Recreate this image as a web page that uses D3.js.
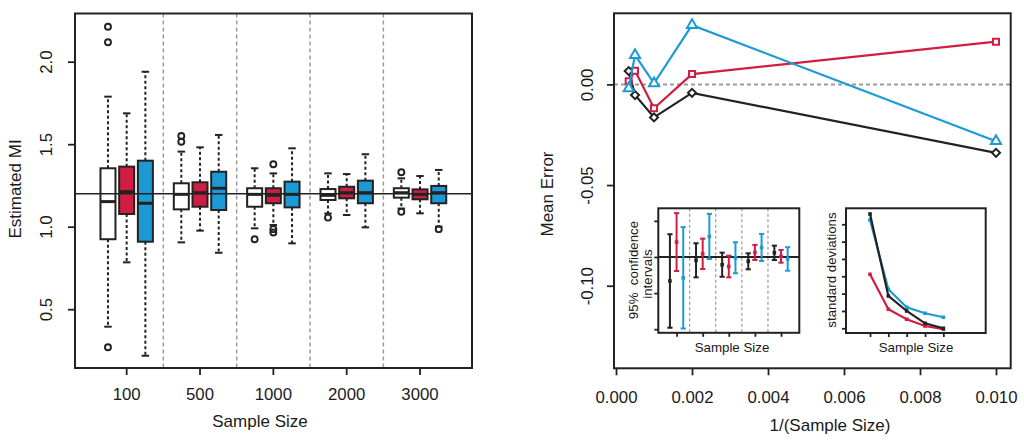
<!DOCTYPE html>
<html>
<head>
<meta charset="utf-8">
<script src="https://cdn.jsdelivr.net/npm/d3@7"></script>
<style>
  body { margin: 0; background: #fff; }
  text { font-family: "Liberation Sans", Arial, Helvetica, sans-serif; fill: #1a1a1a; }
</style>
</head>
<body>
<svg id="chart" width="1024" height="444"></svg>
<script>
// ---- data: left panel (boxplots of estimated MI) ----
const sampleSizes = [100, 500, 1000, 2000, 3000];
const seriesKeys = ["black", "red", "blue"];
const lineColors = ["#222222", "#d21d43", "#1b9ad6"];
const boxFills = ["#ffffff", "#d21d43", "#1b9ad6"];

// [lower whisker, Q1, median, Q3, upper whisker] per sample size
const boxBlack = [
  [0.394, 0.924, 1.152, 1.354, 1.788],
  [0.905, 1.105, 1.196, 1.263, 1.455],
  [0.990, 1.121, 1.196, 1.233, 1.354],
  [1.080, 1.162, 1.190, 1.228, 1.323],
  [1.110, 1.176, 1.206, 1.233, 1.293]
];
const boxRed = [
  [0.784, 1.077, 1.212, 1.364, 1.687],
  [0.976, 1.121, 1.206, 1.269, 1.481],
  [1.010, 1.142, 1.190, 1.233, 1.323],
  [1.071, 1.172, 1.206, 1.242, 1.319],
  [1.081, 1.166, 1.196, 1.226, 1.307]
];
const boxBlue = [
  [0.218, 0.909, 1.142, 1.400, 1.939],
  [0.842, 1.101, 1.233, 1.333, 1.556],
  [0.899, 1.117, 1.196, 1.273, 1.475],
  [0.996, 1.142, 1.206, 1.279, 1.439],
  [1.000, 1.142, 1.206, 1.247, 1.344]
];
const outBlack = [[2.212, 2.118, 0.269], [1.55, 1.515], [0.924], [1.055], [1.33, 1.09]];
const outRed = [[], [], [1.378, 0.985, 0.965], [], []];
const outBlue = [[], [], [], [], [0.985]];
const trueMI = 1.2;
const miTicks = [0.5, 1.0, 1.5, 2.0];

// ---- data: right panel (mean error vs 1/n) ----
const errBlack = [-0.034, -0.0042, -0.0164, -0.0053, 0.0066];
const errRed = [0.0212, 0.0051, -0.0119, 0.0068, 0.0015];
const errBlue = [-0.0282, 0.0294, 0.0005, 0.0145, -0.002];
const errTicks = [0, -0.05, -0.10];
const invTicks = [0, 0.002, 0.004, 0.006, 0.008, 0.010];

// inset 1: 95% confidence intervals (lower / upper)
const ciLoBlack = [-0.098, -0.0282, -0.0274, -0.0171, -0.0042];
const ciHiBlack = [0.0315, 0.019, 0.006, 0.0051, 0.0157];
const ciLoRed = [-0.0194, -0.0167, -0.0282, -0.0042, -0.0079];
const ciHiRed = [0.0607, 0.0254, 0.0018, 0.0167, 0.0097];
const ciLoBlue = [-0.099, -0.0028, -0.0226, -0.0056, -0.019];
const ciHiBlue = [0.0413, 0.0597, 0.0204, 0.0319, 0.0135];
const ciTicks = [0.05, 0, -0.05, -0.10];

// inset 2: standard deviations
const sdBlack = [0.3797, 0.1432, 0.0999, 0.0644, 0.05];
const sdRed = [0.2058, 0.1048, 0.076, 0.0566, 0.0471];
const sdBlue = [0.3624, 0.1625, 0.1106, 0.0933, 0.0817];
const sdTicks = [0.05, 0.10, 0.15, 0.20, 0.25, 0.30, 0.35];

const svg = d3.select("#chart");
const INK = "#222";

function styleAxis(g) {
  g.select(".domain").remove();
  g.selectAll(".tick line").attr("stroke", INK).attr("stroke-width", 1.8);
  g.selectAll(".tick text").attr("fill", "#1a1a1a").style("font-size", "16.8px");
}

// ================= LEFT PANEL =================
const L = { x0: 75, x1: 472, y0: 13.5, y1: 368 };
const yMI = d3.scaleLinear().domain([0.1436, 2.292]).range([L.y1, L.y0]);
const xGroup = d3.scaleBand().domain(sampleSizes).range([90, 456.7]);
const xSeries = d3.scalePoint().domain(seriesKeys).range([-18.7, 18.7]);
const boxW = 15;

// group separators
svg.append("g").selectAll("line")
  .data(sampleSizes.slice(1))
  .join("line")
  .attr("x1", d => xGroup(d)).attr("x2", d => xGroup(d))
  .attr("y1", L.y0).attr("y2", L.y1)
  .attr("stroke", "#9a9a9a").attr("stroke-width", 1.5).attr("stroke-dasharray", "4,3");

const boxStats = [boxBlack, boxRed, boxBlue];
const outliers = [outBlack, outRed, outBlue];
const boxes = [];
seriesKeys.forEach((k, s) => sampleSizes.forEach((n, i) => {
  const [lo, q1, med, q3, hi] = boxStats[s][i];
  boxes.push({ n, k, s, lo, q1, med, q3, hi, out: outliers[s][i],
    cx: xGroup(n) + xGroup.bandwidth() / 2 + xSeries(k) });
}));

const bg = svg.append("g");
// dashed whiskers
bg.selectAll("line.whisk")
  .data(boxes.flatMap(b => [[b, b.q3, b.hi], [b, b.q1, b.lo]]))
  .join("line")
  .attr("x1", d => d[0].cx).attr("x2", d => d[0].cx)
  .attr("y1", d => yMI(d[1])).attr("y2", d => yMI(d[2]))
  .attr("stroke", INK).attr("stroke-width", 2).attr("stroke-dasharray", "3,2.5");
// caps
bg.selectAll("line.cap")
  .data(boxes.flatMap(b => [[b, b.hi], [b, b.lo]]))
  .join("line")
  .attr("x1", d => d[0].cx - boxW / 4).attr("x2", d => d[0].cx + boxW / 4)
  .attr("y1", d => yMI(d[1])).attr("y2", d => yMI(d[1]))
  .attr("stroke", INK).attr("stroke-width", 2);
// boxes
bg.selectAll("rect.box")
  .data(boxes)
  .join("rect")
  .attr("x", d => d.cx - boxW / 2).attr("width", boxW)
  .attr("y", d => yMI(d.q3)).attr("height", d => yMI(d.q1) - yMI(d.q3))
  .attr("fill", d => boxFills[d.s]).attr("stroke", INK).attr("stroke-width", 2);
// medians
bg.selectAll("line.med")
  .data(boxes)
  .join("line")
  .attr("x1", d => d.cx - boxW / 2).attr("x2", d => d.cx + boxW / 2)
  .attr("y1", d => yMI(d.med)).attr("y2", d => yMI(d.med))
  .attr("stroke", INK).attr("stroke-width", 3);
// outliers
bg.selectAll("circle.out")
  .data(boxes.flatMap(b => b.out.map(v => [b, v])))
  .join("circle")
  .attr("cx", d => d[0].cx).attr("cy", d => yMI(d[1])).attr("r", 3)
  .attr("fill", "none").attr("stroke", INK).attr("stroke-width", 1.9);

// true value line
svg.append("line")
  .attr("x1", L.x0).attr("x2", L.x1)
  .attr("y1", yMI(trueMI)).attr("y2", yMI(trueMI))
  .attr("stroke", INK).attr("stroke-width", 1.5);

// frame
svg.append("rect")
  .attr("x", L.x0).attr("y", L.y0).attr("width", L.x1 - L.x0).attr("height", L.y1 - L.y0)
  .attr("fill", "none").attr("stroke", INK).attr("stroke-width", 2);

svg.append("g").attr("transform", `translate(${L.x0},0)`)
  .call(d3.axisLeft(yMI).tickValues(miTicks).tickSize(7).tickFormat(d3.format(".1f")))
  .call(styleAxis)
  .call(g => g.selectAll(".tick text")
    .attr("x", 0).attr("y", -29).attr("dy", "0.35em")
    .attr("transform", "rotate(-90)").attr("text-anchor", "middle"));

svg.append("g").attr("transform", `translate(0,${L.y1})`)
  .call(d3.axisBottom(xGroup).tickSize(7))
  .call(styleAxis)
  .call(g => g.selectAll(".tick text").attr("y", 26).attr("dy", "0.35em"));

svg.append("text")
  .attr("transform", "translate(15,189) rotate(-90)")
  .attr("text-anchor", "middle").attr("dy", "0.35em")
  .style("font-size", "17px")
  .text("Estimated MI");

svg.append("text")
  .attr("x", 260).attr("y", 421.5).attr("dy", "0.35em")
  .attr("text-anchor", "middle")
  .style("font-size", "17px")
  .text("Sample Size");

// ================= RIGHT PANEL =================
const R = { x0: 614, x1: 1010.7, y0: 13.3, y1: 368.3 };
const xInv = d3.scaleLinear().domain([-0.0000533, 0.010387]).range([R.x0, R.x1]);
const yErr = d3.scaleLinear().domain([-0.141, 0.0353]).range([R.y1, R.y0]);

svg.append("line")
  .attr("x1", R.x0).attr("x2", R.x1)
  .attr("y1", yErr(0)).attr("y2", yErr(0))
  .attr("stroke", "#9a9a9a").attr("stroke-width", 2).attr("stroke-dasharray", "4,3");

const errSeries = [errBlack, errRed, errBlue];
const markerPaths = [
  d3.symbol(d3.symbolSquare, 32)(),   // rotated -> diamond
  d3.symbol(d3.symbolSquare, 36)(),
  d3.symbol(d3.symbolTriangle, 44)()
];
const markerRotate = [45, 0, 0];
const errLine = d3.line().x(d => xInv(1 / d.n)).y(d => yErr(d.v));

errSeries.forEach((vals, s) => {
  const pts = vals.map((v, i) => ({ n: sampleSizes[i], v }));
  svg.append("path")
    .datum(pts)
    .attr("d", errLine)
    .attr("fill", "none").attr("stroke", lineColors[s]).attr("stroke-width", 2.2);
  svg.append("g").selectAll("path")
    .data(pts)
    .join("path")
    .attr("d", markerPaths[s])
    .attr("transform", d => `translate(${xInv(1 / d.n)},${yErr(d.v)}) rotate(${markerRotate[s]})`)
    .attr("fill", "#fff").attr("stroke", lineColors[s]).attr("stroke-width", 2);
});

svg.append("rect")
  .attr("x", R.x0).attr("y", R.y0).attr("width", R.x1 - R.x0).attr("height", R.y1 - R.y0)
  .attr("fill", "none").attr("stroke", INK).attr("stroke-width", 2);

svg.append("g").attr("transform", `translate(${R.x0},0)`)
  .call(d3.axisLeft(yErr).tickValues(errTicks).tickSize(7).tickFormat(d => d.toFixed(2)))
  .call(styleAxis)
  .call(g => g.selectAll(".tick text")
    .attr("x", 0).attr("y", -27.3).attr("dy", "0.35em")
    .attr("transform", "rotate(-90)").attr("text-anchor", "middle"));

svg.append("g").attr("transform", `translate(0,${R.y1})`)
  .call(d3.axisBottom(xInv).tickValues(invTicks).tickSize(7).tickFormat(d => d.toFixed(3)))
  .call(styleAxis)
  .call(g => g.selectAll(".tick text").attr("y", 29).attr("dy", "0.35em"));

svg.append("text")
  .attr("transform", "translate(547,194) rotate(-90)")
  .attr("text-anchor", "middle").attr("dy", "0.35em")
  .style("font-size", "17px")
  .text("Mean Error");

svg.append("text")
  .attr("x", 830).attr("y", 425.5).attr("dy", "0.35em")
  .attr("text-anchor", "middle")
  .style("font-size", "17px")
  .text("1/(Sample Size)");

// ---- inset 1: confidence intervals ----
const I1 = { x0: 658.3, x1: 799.3, y0: 208.3, y1: 332.8 };
const xCI = d3.scaleLinear().domain([0.3, 5.7]).range([I1.x0, I1.x1]);
const yCI = d3.scaleLinear().domain([-0.105, 0.0674]).range([I1.y1, I1.y0]);
const ciOffset = d3.scalePoint().domain(seriesKeys).range([-0.255, 0.255]);
const ciLo = [ciLoBlack, ciLoRed, ciLoBlue];
const ciHi = [ciHiBlack, ciHiRed, ciHiBlue];

svg.append("rect")
  .attr("x", I1.x0).attr("y", I1.y0).attr("width", I1.x1 - I1.x0).attr("height", I1.y1 - I1.y0)
  .attr("fill", "#fff");

svg.append("g").selectAll("line")
  .data([1.5, 2.5, 3.5, 4.5])
  .join("line")
  .attr("x1", d => xCI(d)).attr("x2", d => xCI(d))
  .attr("y1", I1.y0).attr("y2", I1.y1)
  .attr("stroke", "#9a9a9a").attr("stroke-width", 1.2).attr("stroke-dasharray", "3,2.5");

svg.append("line")
  .attr("x1", I1.x0).attr("x2", I1.x1)
  .attr("y1", yCI(0)).attr("y2", yCI(0))
  .attr("stroke", INK).attr("stroke-width", 2);

const ciData = [];
seriesKeys.forEach((k, s) => sampleSizes.forEach((n, i) => {
  ciData.push({ s, x: xCI(i + 1 + ciOffset(k)), lo: ciLo[s][i], hi: ciHi[s][i] });
}));
const cg = svg.append("g");
cg.selectAll("line.bar").data(ciData).join("line")
  .attr("x1", d => d.x).attr("x2", d => d.x)
  .attr("y1", d => yCI(d.lo)).attr("y2", d => yCI(d.hi))
  .attr("stroke", d => lineColors[d.s]).attr("stroke-width", 2);
cg.selectAll("line.cap").data(ciData.flatMap(d => [[d, d.lo], [d, d.hi]])).join("line")
  .attr("x1", d => d[0].x - 2.6).attr("x2", d => d[0].x + 2.6)
  .attr("y1", d => yCI(d[1])).attr("y2", d => yCI(d[1]))
  .attr("stroke", d => lineColors[d[0].s]).attr("stroke-width", 2);
cg.selectAll("rect.pt").data(ciData).join("rect")
  .attr("x", d => d.x - 1.8).attr("y", d => yCI((d.lo + d.hi) / 2) - 1.8)
  .attr("width", 3.6).attr("height", 3.6)
  .attr("fill", d => lineColors[d.s]);

svg.append("rect")
  .attr("x", I1.x0).attr("y", I1.y0).attr("width", I1.x1 - I1.x0).attr("height", I1.y1 - I1.y0)
  .attr("fill", "none").attr("stroke", INK).attr("stroke-width", 2);

svg.append("g").attr("transform", `translate(${I1.x0},0)`)
  .call(d3.axisLeft(yCI).tickValues(ciTicks).tickSize(4).tickFormat(""))
  .call(styleAxis);
svg.append("g").attr("transform", `translate(0,${I1.y1})`)
  .call(d3.axisBottom(xCI).tickValues([1, 2, 3, 4, 5]).tickSize(4).tickFormat(""))
  .call(styleAxis);

svg.append("text")
  .attr("transform", "translate(633.3,270) rotate(-90)")
  .attr("text-anchor", "middle").attr("dy", "0.35em")
  .attr("xml:space", "preserve")
  .style("font-size", "13.3px").style("white-space", "pre")
  .text("95%  confidence");
svg.append("text")
  .attr("transform", "translate(647,274) rotate(-90)")
  .attr("text-anchor", "middle").attr("dy", "0.35em")
  .style("font-size", "13.3px")
  .text("intervals");
svg.append("text")
  .attr("x", 732).attr("y", 347.5).attr("dy", "0.35em")
  .attr("text-anchor", "middle")
  .style("font-size", "13.3px")
  .text("Sample Size");

// ---- inset 2: standard deviations ----
const I2 = { x0: 846, x1: 985.7, y0: 208.3, y1: 333 };
const xSD = d3.scaleLinear().domain([-0.31, 7.31]).range([I2.x0, I2.x1]);
const ySD = d3.scaleLinear().domain([0.0364, 0.3961]).range([I2.y1, I2.y0]);
const sdSeries = [sdBlack, sdRed, sdBlue];

svg.append("rect")
  .attr("x", I2.x0).attr("y", I2.y0).attr("width", I2.x1 - I2.x0).attr("height", I2.y1 - I2.y0)
  .attr("fill", "#fff");

const sdLine = d3.line().x((d, i) => xSD(i + 1)).y(d => ySD(d));
[1, 2, 0].forEach(s => {
  svg.append("path")
    .datum(sdSeries[s])
    .attr("d", sdLine)
    .attr("fill", "none").attr("stroke", lineColors[s]).attr("stroke-width", 2.2);
  svg.append("g").selectAll("rect")
    .data(sdSeries[s])
    .join("rect")
    .attr("x", (d, i) => xSD(i + 1) - 1.8).attr("y", d => ySD(d) - 1.8)
    .attr("width", 3.6).attr("height", 3.6)
    .attr("fill", lineColors[s]);
});

svg.append("rect")
  .attr("x", I2.x0).attr("y", I2.y0).attr("width", I2.x1 - I2.x0).attr("height", I2.y1 - I2.y0)
  .attr("fill", "none").attr("stroke", INK).attr("stroke-width", 2);

svg.append("g").attr("transform", `translate(${I2.x0},0)`)
  .call(d3.axisLeft(ySD).tickValues(sdTicks).tickSize(4).tickFormat(""))
  .call(styleAxis);
svg.append("g").attr("transform", `translate(0,${I2.y1})`)
  .call(d3.axisBottom(xSD).tickValues([1, 2, 3, 4, 5]).tickSize(4).tickFormat(""))
  .call(styleAxis);

svg.append("text")
  .attr("transform", "translate(831.7,270) rotate(-90)")
  .attr("text-anchor", "middle").attr("dy", "0.35em")
  .style("font-size", "13.3px")
  .text("standard deviations");
svg.append("text")
  .attr("x", 916).attr("y", 347).attr("dy", "0.35em")
  .attr("text-anchor", "middle")
  .style("font-size", "13.3px")
  .text("Sample Size");
</script>
</body>
</html>
